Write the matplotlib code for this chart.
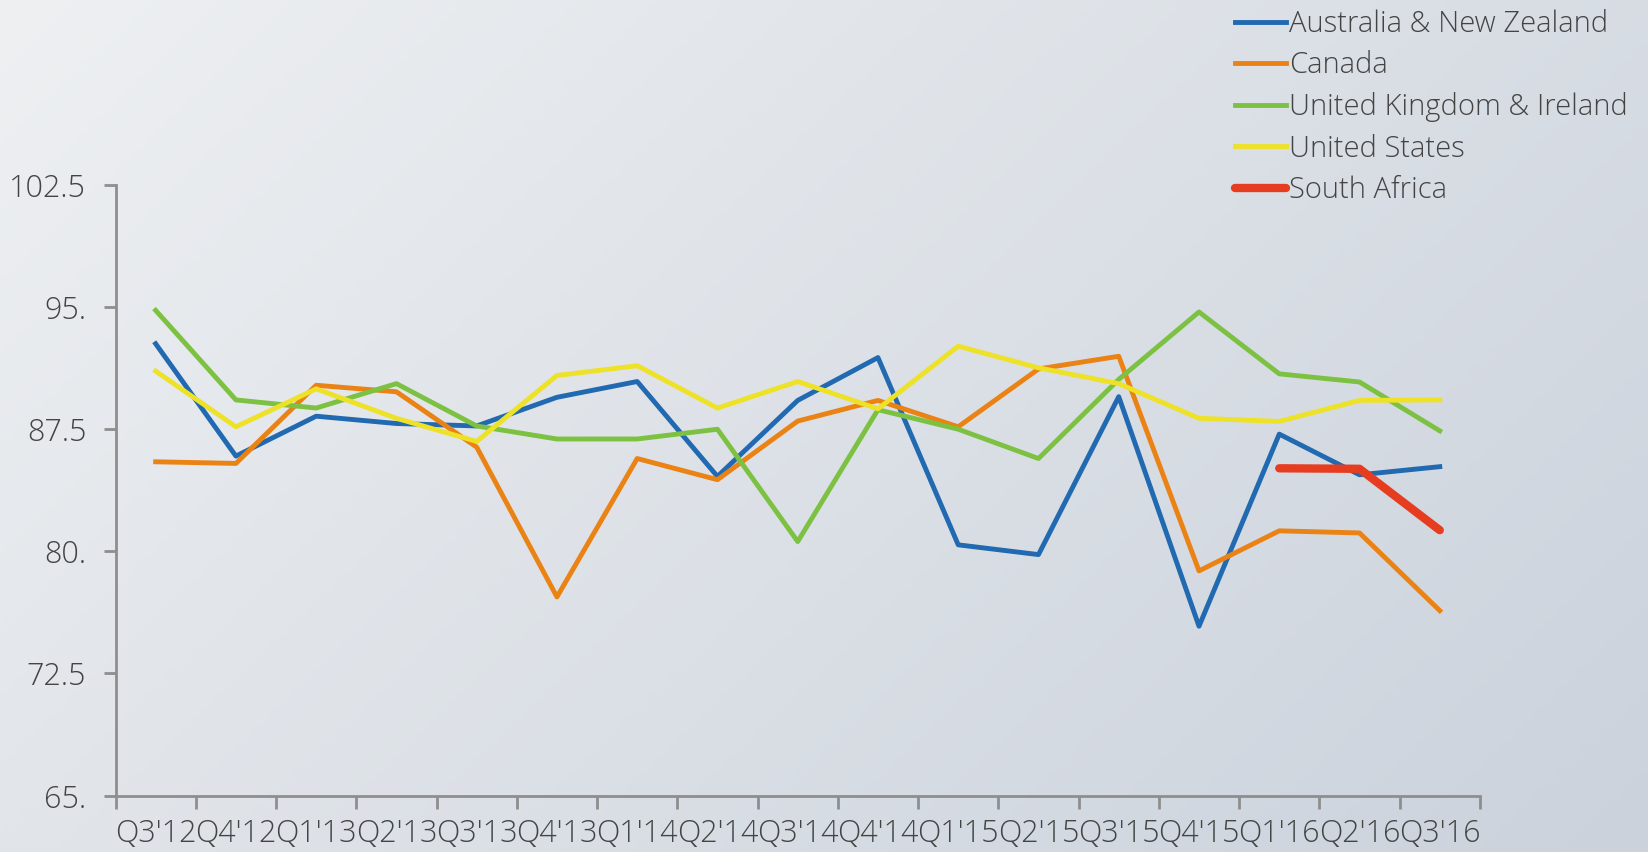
import matplotlib
matplotlib.use("Agg")
import matplotlib.pyplot as plt
import numpy as np

plt.rcParams['font.family'] = ['Open Sans', 'DejaVu Sans']

quarters = ["Q3'12", "Q4'12", "Q1'13", "Q2'13", "Q3'13", "Q4'13", "Q1'14", "Q2'14", "Q3'14",
            "Q4'14", "Q1'15", "Q2'15", "Q3'15", "Q4'15", "Q1'16", "Q2'16", "Q3'16"]

anz = [92.75, 85.85, 88.3, 87.85, 87.7, 89.46, 90.43, 84.6, 89.27,
       91.9, 80.4, 79.8, 89.5, 75.4, 87.2, 84.7, 85.2]
canada = [85.5, 85.4, 90.2, 89.8, 86.4, 77.2, 85.7, 84.4, 88.0,
          89.27, 87.65, 91.2, 91.98, 78.8, 81.26, 81.13, 76.36]
uk = [94.8, 89.3, 88.8, 90.3, 87.7, 86.9, 86.9, 87.5, 80.6,
      88.7, 87.5, 85.7, 90.56, 94.7, 90.9, 90.4, 87.4]
usa = [91.07, 87.65, 89.98, 88.17, 86.75, 90.8, 91.4, 88.8, 90.43,
       88.75, 92.6, 91.27, 90.3, 88.17, 87.98, 89.27, 89.3]
south_africa = [85.1, 85.07, 81.3]
sa_quarters = quarters[-3:]

y_ticks = [65, 72.5, 80, 87.5, 95, 102.5]
y_labels = ["65.", "72.5", "80.", "87.5", "95.", "102.5"]

fig = plt.figure(figsize=(16.48, 8.52), dpi=100)

# soft diagonal gradient background
bg = fig.add_axes([0, 0, 1, 1], zorder=-10)
gx, gy = np.meshgrid(np.linspace(0, 1, 300), np.linspace(0, 1, 200))
t = (0.65 * gx + 0.35 * gy)
top = np.array([238, 240, 242]) / 255
bot = np.array([203, 210, 220]) / 255
img = top[None, None, :] * (1 - t[..., None]) + bot[None, None, :] * t[..., None]
bg.imshow(img, aspect='auto', extent=[0, 1, 0, 1])
bg.axis('off')

ax = fig.add_axes([0.0701, 0.0662, 0.8279, 0.7167])
ax.patch.set_alpha(0)

x = np.arange(len(quarters))
lw = 3.5
ax.plot(x, anz, color='#2169b0', lw=lw, label='Australia & New Zealand')
ax.plot(x, canada, color='#ea8214', lw=lw, label='Canada')
ax.plot(x, uk, color='#7dc142', lw=lw, label='United Kingdom & Ireland')
ax.plot(x, usa, color='#ede228', lw=lw, label='United States')
sa_x = [quarters.index(q) for q in sa_quarters]
ax.plot(sa_x, south_africa, color='#e63c20', lw=6, label='South Africa',
        solid_capstyle='round', solid_joinstyle='round')

ax.set_xlim(-0.5, len(quarters) - 0.5)
ax.set_ylim(65, 102.5)

for s in ['top', 'right']:
    ax.spines[s].set_visible(False)
for s in ['left', 'bottom']:
    ax.spines[s].set_color('#8e8e8e')
    ax.spines[s].set_linewidth(2)

ax.set_yticks(y_ticks)
ax.set_yticklabels(y_labels)
ax.set_xticks(x)
ax.set_xticklabels(quarters)
ax.set_xticks(np.arange(-0.5, len(quarters), 1), minor=True)
ax.tick_params(axis='x', which='major', length=0, pad=16)
ax.tick_params(axis='x', which='minor', length=9, width=2, color='#8e8e8e', direction='out')
ax.tick_params(axis='y', length=9, width=2, color='#8e8e8e', direction='out', pad=12)
for lab in ax.get_xticklabels() + ax.get_yticklabels():
    lab.set_fontsize(22)
    lab.set_fontweight('light')
    lab.set_color('#444444')

leg = fig.legend(loc='upper left', bbox_to_anchor=(0.7335, 1.02), frameon=False,
                 handlelength=1.75, handletextpad=0.1, labelspacing=0.41,
                 prop={'size': 21, 'weight': 'light'})
for t_ in leg.get_texts():
    t_.set_color('#444444')

fig.savefig('out.png', dpi=100)
